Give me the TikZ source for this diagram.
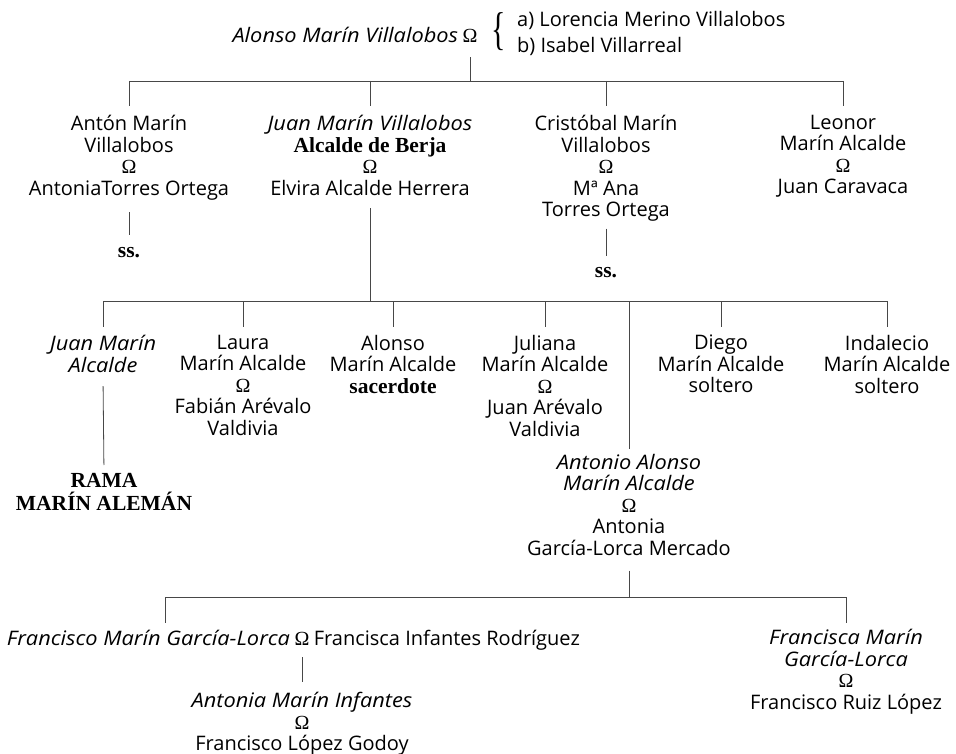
\documentclass[tikz,border=0pt]{standalone}
\usepackage{fontspec}
\usepackage{graphicx}
\setmainfont{Open Sans}[ItalicFeatures={FakeStretch=1.09}]
\newfontfamily\serifb{Liberation Serif}
\newcommand\om{{\serifb Ω}}
\newcommand\bs[1]{{\fontsize{21.5}{21.5}\selectfont\serifb\bfseries #1}}
\begin{document}
\begin{tikzpicture}[x=1pt,y=-1pt,
  pers/.style={align=center, inner sep=0pt, anchor=north,
    font=\fontsize{20}{21.5}\selectfont,
    execute at begin node={\rule{0pt}{16pt}},
    execute at end node={\rule[-5pt]{0pt}{5pt}}},
  rama/.style={pers, font=\fontsize{21.5}{23}\selectfont\serifb\bfseries},
  bracestyle/.style={inner sep=0pt, font=\fontsize{46}{46}\selectfont\serifb},
  ln/.style={draw=black!72, line width=0.8pt}]
\useasboundingbox (0,0) rectangle (956,754);

% generation 1
\node[pers, anchor=base] (omA) at (470,43) {\om};
\node[pers, anchor=base east] (alonso) at ([xshift=-4pt]omA.base west) {\itshape Alonso Marín Villalobos};
\node[bracestyle, anchor=base] (brace) at (499,45) {\scalebox{0.65}[1]{\{}};
\node[pers, anchor=north west, align=left, font=\fontsize{20}{26}\selectfont] (wives) at (517,11) {a) Lorencia Merino Villalobos\\b) Isabel Villarreal};

% generation 2
\node[pers] (anton) at (129,115) {Antón Marín\\Villalobos\\\om\\AntoniaTorres Ortega};
\node[pers] (juanmv) at (370,115) {\itshape Juan Marín Villalobos\\\bs{Alcalde de Berja}\\\om\\Elvira Alcalde Herrera};
\node[pers] (cristobal) at (606,115) {Cristóbal Marín\\Villalobos\\\om\\Mª Ana\\Torres Ortega};
\node[pers] (leonor) at (843,115) {Leonor\\Marín Alcalde\\\om\\Juan Caravaca};
\node[pers] (ss1) at (129,241) {\bs{ss.}};
\node[pers] (ss2) at (606,261) {\bs{ss.}};

% generation 3
\node[pers] (juanma) at (103,335) {\itshape Juan Marín\\\itshape Alcalde};
\node[pers] (laura) at (243,335) {Laura\\Marín Alcalde\\\om\\Fabián Arévalo\\Valdivia};
\node[pers] (alonso2) at (393,335) {Alonso\\Marín Alcalde\\\bs{sacerdote}};
\node[pers] (juliana) at (545,335) {Juliana\\Marín Alcalde\\\om\\Juan Arévalo\\Valdivia};
\node[pers] (antonio) at (629,454) {\itshape Antonio Alonso\\\itshape Marín Alcalde\\\om\\Antonia\\García-Lorca Mercado};
\node[pers] (diego) at (721,335) {Diego\\Marín Alcalde\\soltero};
\node[pers] (indalecio) at (887,335) {Indalecio\\Marín Alcalde\\soltero};
\node[rama] (ramanode) at (104,473) {RAMA\\MARÍN ALEMÁN};

% generation 4
\node[pers, anchor=base] (omF) at (302,645) {\om};
\node[pers, anchor=base east] (francisco) at ([xshift=-4pt]omF.base west) {\itshape Francisco Marín García-Lorca};
\node[pers, anchor=base west] (fwife) at ([xshift=4pt]omF.base east) {Francisca Infantes Rodríguez};
\node[pers] (francisca) at (846,629) {\itshape Francisca Marín\\\itshape García-Lorca\\\om\\Francisco Ruiz López};
\node[pers] (antoniami) at (302,692) {\itshape Antonia Marín Infantes\\\om\\Francisco López Godoy};

% junctions
\coordinate (j1) at (470,81);
\coordinate (j2) at (370,301);
\coordinate (j3) at (629,597);

% connectors generation 1 -> 2
\draw[ln, shorten <=9pt] (omA.south) -- (j1);
\draw[ln] (anton.north |- j1) -- (leonor.north |- j1);
\foreach \n in {anton,juanmv,cristobal,leonor}
  \draw[ln, shorten >=9pt] (\n.north |- j1) -- (\n.north);
\draw[ln, shorten <=12pt, shorten >=6pt] (anton.south) -- (ss1.north);
\draw[ln, shorten <=7pt, shorten >=5pt] (cristobal.south) -- (ss2.north);

% connectors generation 2 -> 3
\draw[ln, shorten <=8pt] (juanmv.south) -- (j2);
\draw[ln] (juanma.north |- j2) -- (indalecio.north |- j2);
\foreach \n in {juanma,laura,alonso2,juliana,diego,indalecio}
  \draw[ln, shorten >=8pt] (\n.north |- j2) -- (\n.north);
\draw[ln, shorten >=5pt] (antonio.north |- j2) -- (antonio.north);
\draw[ln, shorten <=9pt, shorten >=8pt] (juanma.south) -- (ramanode.north);

% connectors generation 3 -> 4
\draw[ln, shorten <=10pt] (antonio.south) -- (j3);
\draw[ln] (165,597) coordinate (fb) -- (francisca.north |- j3);
\draw[ln, shorten >=6pt] (fb) -- (fb |- francisco.north);
\draw[ln, shorten >=6pt] (francisca.north |- j3) -- (francisca.north);
\draw[ln, shorten <=7pt, shorten >=10pt] (omF.south) -- (antoniami.north);
\end{tikzpicture}
\end{document}
